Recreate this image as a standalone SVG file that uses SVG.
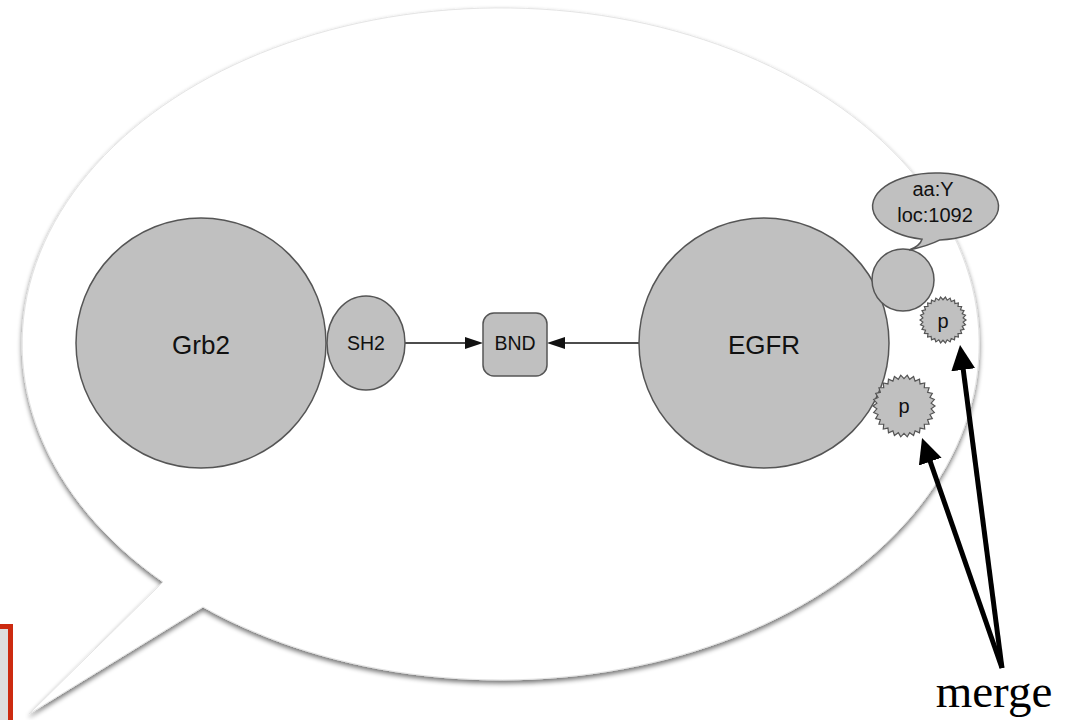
<svg xmlns="http://www.w3.org/2000/svg" xmlns:xlink="http://www.w3.org/1999/xlink" width="1081" height="720" viewBox="0 0 1081 720">
  <style>
    .mol { fill: #c0c0c0; stroke: #555; stroke-width: 1.5; }
    .lbl { font-family: "Liberation Sans", Arial, Helvetica, sans-serif; fill: #111; text-anchor: middle; }
    .big { font-size: 26px; }
    .mid { font-size: 19.5px; }
    .small { font-size: 20px; }
    .link { stroke: #111; stroke-width: 1.3; fill: none; }
    .merge { stroke: #000; stroke-width: 5; fill: none; }
  </style>
  <defs>
    <filter id="bubbleShadow" x="-5%" y="-5%" width="110%" height="115%">
      <feGaussianBlur in="SourceAlpha" stdDeviation="2.5"/>
      <feOffset dy="3"/>
      <feComponentTransfer><feFuncA type="linear" slope="0.55"/></feComponentTransfer>
      <feMerge><feMergeNode/><feMergeNode in="SourceGraphic"/></feMerge>
    </filter>
    <marker id="head" markerUnits="userSpaceOnUse" markerWidth="18" markerHeight="12" viewBox="0 0 18 12" refX="10" refY="6" orient="auto">
      <path d="M0,0 L18,6 L0,12 Z" fill="#111"/>
    </marker>
    <marker id="bigHead" markerUnits="userSpaceOnUse" markerWidth="25" markerHeight="24" viewBox="0 0 25 24" refX="2" refY="12" orient="auto">
      <path d="M0,0 L25,12 L0,24 Z" fill="#000"/>
    </marker>
    <!-- unit sawtooth outline used for phosphate sites -->
    <polygon id="zig" vector-effect="non-scaling-stroke" points="1,0 .875,.092 .978,.208 .837,.272 .914,.407 .762,.44 .809,.588 .654,.589 .669,.743 .517,.712 .5,.866 .358,.804 .309,.951 .183,.861 .105,.995 0,.88 -.105,.995 -.183,.861 -.309,.951 -.358,.804 -.5,.866 -.517,.712 -.669,.743 -.654,.589 -.809,.588 -.762,.44 -.914,.407 -.837,.272 -.978,.208 -.875,.092 -1,0 -.875,-.092 -.978,-.208 -.837,-.272 -.914,-.407 -.762,-.44 -.809,-.588 -.654,-.589 -.669,-.743 -.517,-.712 -.5,-.866 -.358,-.804 -.309,-.951 -.183,-.861 -.105,-.995 0,-.88 .105,-.995 .183,-.861 .309,-.951 .358,-.804 .5,-.866 .517,-.712 .669,-.743 .654,-.589 .809,-.588 .762,-.44 .914,-.407 .837,-.272 .978,-.208 .875,-.092" fill="#c0c0c0" stroke="#555" stroke-width="1.2" stroke-linejoin="miter"/>
  </defs>

  <rect width="1081" height="720" fill="#fff"/>

  <!-- edge of the neighbouring panel -->
  <rect x="-20" y="626.5" width="30.5" height="120" fill="#dedede" stroke="#cc2a10" stroke-width="5"/>

  <!-- speech bubble -->
  <path id="bubble" d="M163,582 A478.5,336 0 1 1 203,607 L29,714 Z" fill="#fff" stroke="#e4e4e4" stroke-width="1" filter="url(#bubbleShadow)"/>

  <g id="connectors">
    <line class="link" x1="405" y1="343" x2="475" y2="343" marker-end="url(#head)"/>
    <line class="link" x1="639" y1="343" x2="555" y2="343" marker-end="url(#head)"/>
    <line class="merge" x1="1002" y1="668" x2="929.6" y2="459.7" marker-end="url(#bigHead)"/>
    <line class="merge" x1="1002" y1="668" x2="963" y2="367.8" marker-end="url(#bigHead)"/>
  </g>

  <g id="grb2">
    <circle class="mol" cx="201" cy="343" r="125"/>
    <text class="lbl big" x="201" y="354">Grb2</text>
  </g>

  <g id="sh2">
    <ellipse class="mol" cx="366" cy="343" rx="39" ry="47"/>
    <text class="lbl mid" x="366" y="350">SH2</text>
  </g>

  <g id="bnd">
    <rect class="mol" x="483" y="313" width="64" height="63" rx="11"/>
    <text class="lbl mid" x="515" y="350">BND</text>
  </g>

  <g id="egfr">
    <circle class="mol" cx="764" cy="343" r="125"/>
    <text class="lbl big" x="764" y="354">EGFR</text>
  </g>

  <g id="site">
    <circle class="mol" cx="903" cy="280" r="31"/>
  </g>

  <g id="p-upper">
    <use xlink:href="#zig" transform="translate(943,320) scale(23)"/>
    <text class="lbl small" x="943" y="328">p</text>
  </g>

  <g id="p-lower">
    <use xlink:href="#zig" transform="translate(904,406) scale(31)"/>
    <text class="lbl small" x="904" y="413">p</text>
  </g>

  <g id="site-note">
    <path class="mol" d="M940,239.9 A63,33.5 0 1 0 922,239.2 Q920,246 909,250 Q928,246 940,239.9 Z"/>
    <text class="lbl small" x="933" y="196">aa:Y</text>
    <text class="lbl small" x="935" y="222">loc:1092</text>
  </g>

  <g id="merge-label">
    <text x="994" y="707" font-family="'Liberation Serif', 'Times New Roman', serif" font-size="47" text-anchor="middle" fill="#000">merge</text>
  </g>
</svg>
